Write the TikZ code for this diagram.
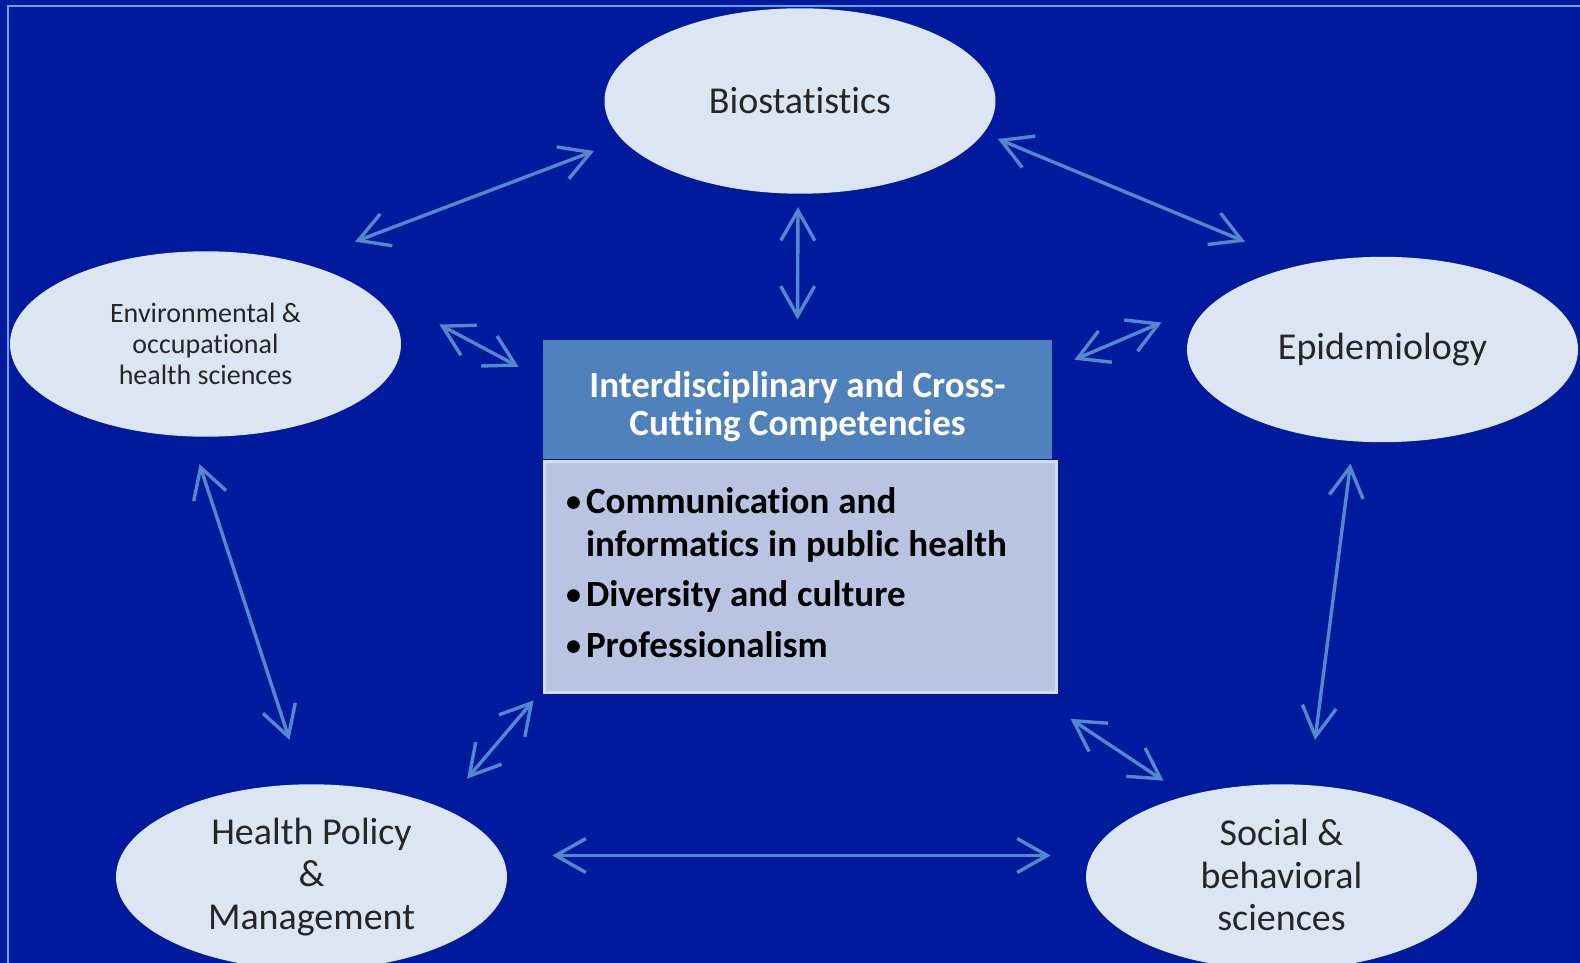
\documentclass[tikz,border=0pt]{standalone}
\usepackage{fontspec}
\setmainfont{Carlito}[Ligatures=NoCommon]
\usepackage{array}
\usetikzlibrary{positioning, arrows.meta, shapes.geometric}
\definecolor{bgblue}{RGB}{0,26,158}
\definecolor{ovalfill}{RGB}{220,230,242}
\definecolor{linkblue}{RGB}{84,136,204}
\definecolor{headblue}{RGB}{79,129,189}
\definecolor{bodyfill}{RGB}{185,196,226}
\definecolor{bodyline}{RGB}{212,220,240}
\definecolor{frameline}{RGB}{102,160,232}
\newcommand{\dotmark}{\raisebox{1pt}{\fontsize{15}{15}\selectfont\textbullet}}
\newcommand{\tightwords}{\spaceskip=4.5pt\relax}

\begin{document}
\begin{tikzpicture}[x=0.5pt, y=-0.5pt,
        font=\fontsize{19}{21.2}\selectfont,
        area/.style={ellipse, fill=ovalfill, minimum width=195.5pt, minimum height=92.7pt,
            inner sep=0pt, align=center, text=black!85},
        head/.style={rectangle, fill=headblue, text=white, minimum width=254.5pt, minimum height=59.75pt,
            inner sep=0pt, align=center, font=\bfseries\fontsize{18.5}{18.7}\selectfont},
        body/.style={rectangle, fill=bodyfill, draw=bodyline, line width=1.5pt, minimum width=256pt,
            minimum height=115.75pt, text width=234pt, inner xsep=8.5pt, align=left,
            font=\bfseries\fontsize{18.5}{21.2}\selectfont},
        link/.style={{Straight Barb[length=15pt,width=17pt]}-{Straight Barb[length=15pt,width=17pt]},
            linkblue, line width=1.7pt}]
    \clip (0,0) rectangle (1580,963);
    \fill[bgblue] (0,0) rectangle (1580,963);
    \draw[frameline, line width=1pt] (1580,6) -- (8,6) -- (8,963);

    % the five disciplines
    \node[area] (bio) at (800,101) {Biostatistics};
    \node[area, font=\fontsize{14}{15.6}\selectfont] (env) at (205.5,344) {Environmental \&\\occupational\\health sciences};
    \node[area] (epi) at (1382.5,349.5) {Epidemiology};
    \node[area] (hpm) at (311.5,877) {Health Policy\\\&\\Management};
    \node[area] (sbs) at (1281.5,877) {\raisebox{2pt}{Social \&}\\\raisebox{2pt}{behavioral}\\\raisebox{2pt}{sciences}};

    % centre box
    \node[head] (head) at (797.5,399.7) {\rule{0pt}{20pt}Interdisciplinary and Cross-\\Cutting Competencies};
    \node[body, below=0pt of head.south west, anchor=north west] (body) {%
        \begin{tabular}{@{}l@{\hspace{2.5pt}}>{\tightwords}l@{}}
            \dotmark & Communication and\\
                     & informatics in public health\\[4pt]
            \dotmark & Diversity and culture\\[4pt]
            \dotmark & Professionalism
        \end{tabular}};

    % links
    \draw[link] ([shift={(-10,50)}]bio.west) -- ([shift={(11,-36.5)}]env.north east);
    \draw[link] ([shift={(2,38)}]bio.east) -- ([shift={(1,-42)}]epi.north west);
    \draw[link] ([shift={(-2,13)}]bio.south) -- ([shift={(0,-20)}]head.north);
    \draw[link] ([shift={(38,-19.5)}]env.east) -- ([shift={(-24,-33)}]head.west);
    \draw[link] ([shift={(-25,-27)}]epi.west) -- ([shift={(22,-40)}]head.east);
    \draw[link] ([shift={(-6,27)}]env.south) -- ([shift={(-22,-44)}]hpm.north);
    \draw[link] ([shift={(-32,21)}]epi.south) -- ([shift={(33.5,-44)}]sbs.north);
    \draw[link] ([shift={(17,-32.5)}]hpm.north east) -- ([shift={(-9,6)}]body.south west);
    \draw[link] ([shift={(13,24.5)}]body.south east) -- ([shift={(20.6,-30.5)}]sbs.north west);
    \draw[link] ([shift={(45,-21.5)}]hpm.east) -- ([shift={(-35,-21.5)}]sbs.west);
\end{tikzpicture}
\end{document}
